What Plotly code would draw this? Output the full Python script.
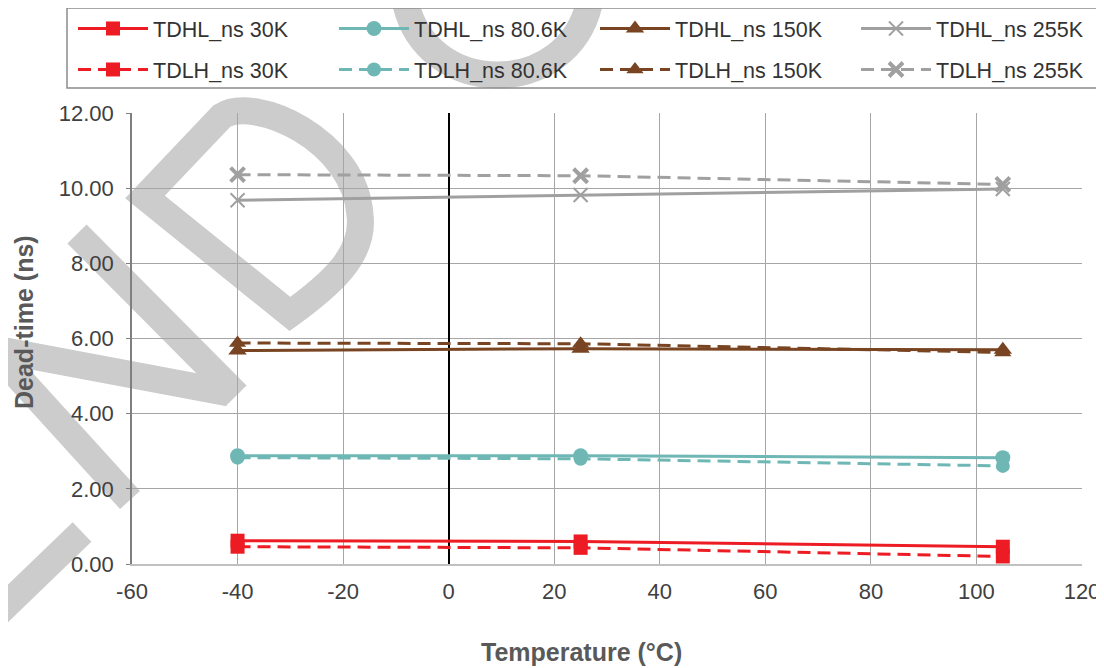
import plotly.graph_objects as go

# ---- data ----
temps = [-40, 25, 105]
tdhl_30k = [0.62, 0.60, 0.46]
tdlh_30k = [0.46, 0.43, 0.20]
tdhl_806k = [2.88, 2.88, 2.83]
tdlh_806k = [2.83, 2.80, 2.61]
tdhl_150k = [5.68, 5.73, 5.70]
tdlh_150k = [5.88, 5.86, 5.63]
tdhl_255k = [9.68, 9.82, 9.98]
tdlh_255k = [10.36, 10.33, 10.10]

x_ticks = [-60, -40, -20, 0, 20, 40, 60, 80, 100, 120]
x_tick_text = [str(v) for v in x_ticks]
y_ticks = [0, 2, 4, 6, 8, 10, 12]
y_tick_text = ["%.2f" % v for v in y_ticks]

RED = "#ED1C24"
TEAL = "#6FB7B5"
BROWN = "#784421"
GRAY = "#A0A0A0"
FONT = "Liberation Sans, Arial, sans-serif"

# page has an 8px body margin: figure occupies page pixels 8..1104, 8..668
OFF = 8
W, H = 1104 - OFF, 668 - OFF
# plot area in page pixels: x 132..1082, y 113..564
L, R, T, B = 132 - OFF, 22, 113 - OFF, 104
PW, PH = W - L - R, H - T - B


def pp(px, py):
    """page pixel -> paper coords"""
    return (px - OFF - L) / PW, (H - B - (py - OFF)) / PH


fig = go.Figure()

series = [
    ("TDHL_ns 30K", tdhl_30k, RED, "solid", "square", 14, 0, "legend"),
    ("TDHL_ns 80.6K", tdhl_806k, TEAL, "solid", "circle", 15, 0, "legend"),
    ("TDHL_ns 150K", tdhl_150k, BROWN, "solid", "triangle-up", 16, 0, "legend"),
    ("TDHL_ns 255K", tdhl_255k, GRAY, "solid", "x-thin", 14, 2, "legend"),
    ("TDLH_ns 30K", tdlh_30k, RED, "13px,7px", "square", 14, 0, "legend2"),
    ("TDLH_ns 80.6K", tdlh_806k, TEAL, "13px,7px", "circle", 14, 0, "legend2"),
    ("TDLH_ns 150K", tdlh_150k, BROWN, "13px,7px", "triangle-up", 15, 0, "legend2"),
    ("TDLH_ns 255K", tdlh_255k, GRAY, "13px,7px", "x-thin", 14, 4, "legend2"),
]

for name, vals, col, dash, sym, size, lw, leg in series:
    marker = dict(symbol=sym, size=size, color=col)
    if lw:
        marker["line"] = dict(width=lw, color=col)
    fig.add_trace(go.Scatter(
        x=temps, y=vals, name=name, mode="lines+markers",
        line=dict(color=col, width=3, dash=dash),
        marker=marker, legend=leg,
    ))

# ---- watermark strokes (page pixel coords -> paper) ----
WM = "#CCCCCC"
WMW = 27


def path_str(cmds):
    out = []
    for c, pts in cmds:
        coords = []
        for (a, b) in pts:
            x, y = pp(a, b)
            coords.append("%.4f,%.4f" % (x, y))
        out.append((c + " " + " ".join(coords)).strip())
    return " ".join(out)


wm_paths = [
    [("M", [(145, 197)]), ("L", [(222, 116)]),
     ("C", [(255, 95), (355, 140), (360, 215)]),
     ("C", [(365, 255), (330, 285), (290, 314)]), ("Z", [])],
    [("M", [(398, -35)]), ("L", [(405, 0)]),
     ("C", [(425, 100), (570, 100), (590, 0)]), ("L", [(597, -35)])],
    [("M", [(77, 234)]), ("L", [(237, 395)])],
    [("M", [(-10, 348)]), ("L", [(229, 393)])],
    [("M", [(-20, 335)]), ("L", [(130, 500)])],
    [("M", [(-60, 428)]), ("L", [(-12, 476)]), ("L", [(-60, 524)])],
    [("M", [(82, 532)]), ("L", [(-30, 640)])],
]
shapes = []
for p in wm_paths:
    shapes.append(dict(type="path", path=path_str(p), xref="paper", yref="paper",
                       line=dict(color=WM, width=WMW), fillcolor="rgba(0,0,0,0)",
                       layer="below"))

# legend box
bx0, by0 = pp(67, 8)
bx1, by1 = pp(1097, 88)
shapes.append(dict(type="rect", xref="paper", yref="paper", x0=bx0, y0=by0, x1=bx1, y1=by1,
                   line=dict(color="#8C8C8C", width=1.5), fillcolor="rgba(0,0,0,0)",
                   layer="above"))

lx, ly1 = pp(73, 8)
_, ly2 = pp(73, 49)

leg_common = dict(orientation="h", xanchor="left", yanchor="top",
                  entrywidth=176, itemwidth=70, font=dict(size=21.5, color="#333333"),
                  bgcolor="rgba(0,0,0,0)", traceorder="normal")

fig.update_layout(
    width=W, height=H,
    margin=dict(l=L, r=R, t=T, b=B, pad=0, autoexpand=False),
    paper_bgcolor="white",
    plot_bgcolor="rgba(0,0,0,0)",
    font=dict(family=FONT, size=22, color="#404040"),
    showlegend=True,
    legend=dict(x=lx, y=ly1, **leg_common),
    legend2=dict(x=lx, y=ly2, **leg_common),
    shapes=shapes,
    xaxis=dict(range=[-60, 120], tickvals=x_ticks, ticktext=x_tick_text, showgrid=True,
               gridcolor="#A6A6A6", gridwidth=1, zeroline=True, zerolinecolor="#000000",
               zerolinewidth=1.5, showline=True, linecolor="#C0C0C0", linewidth=2, ticks="",
               ticklabelstandoff=7, tickfont=dict(size=22, color="#404040")),
    yaxis=dict(range=[0, 12], tickvals=y_ticks, ticktext=y_tick_text, showgrid=True,
               gridcolor="#A6A6A6", gridwidth=1, zeroline=False, showline=True,
               linecolor="#7F7F7F", linewidth=1.5, ticks="outside", ticklen=4,
               tickcolor="#7F7F7F", ticklabelstandoff=8,
               tickfont=dict(size=22, color="#404040")),
    annotations=[
        dict(text="<b>Temperature (°C)</b>", xref="paper", yref="paper",
             x=pp(581, 0)[0], y=pp(0, 652)[1], showarrow=False,
             xanchor="center", yanchor="middle", font=dict(size=25, color="#595959")),
        dict(text="<b>Dead-time (ns)</b>", xref="paper", yref="paper",
             x=pp(24, 0)[0], y=pp(0, 322)[1], showarrow=False, textangle=-90,
             xanchor="center", yanchor="middle", font=dict(size=25, color="#595959")),
    ],
)

fig.write_html("out.html")
